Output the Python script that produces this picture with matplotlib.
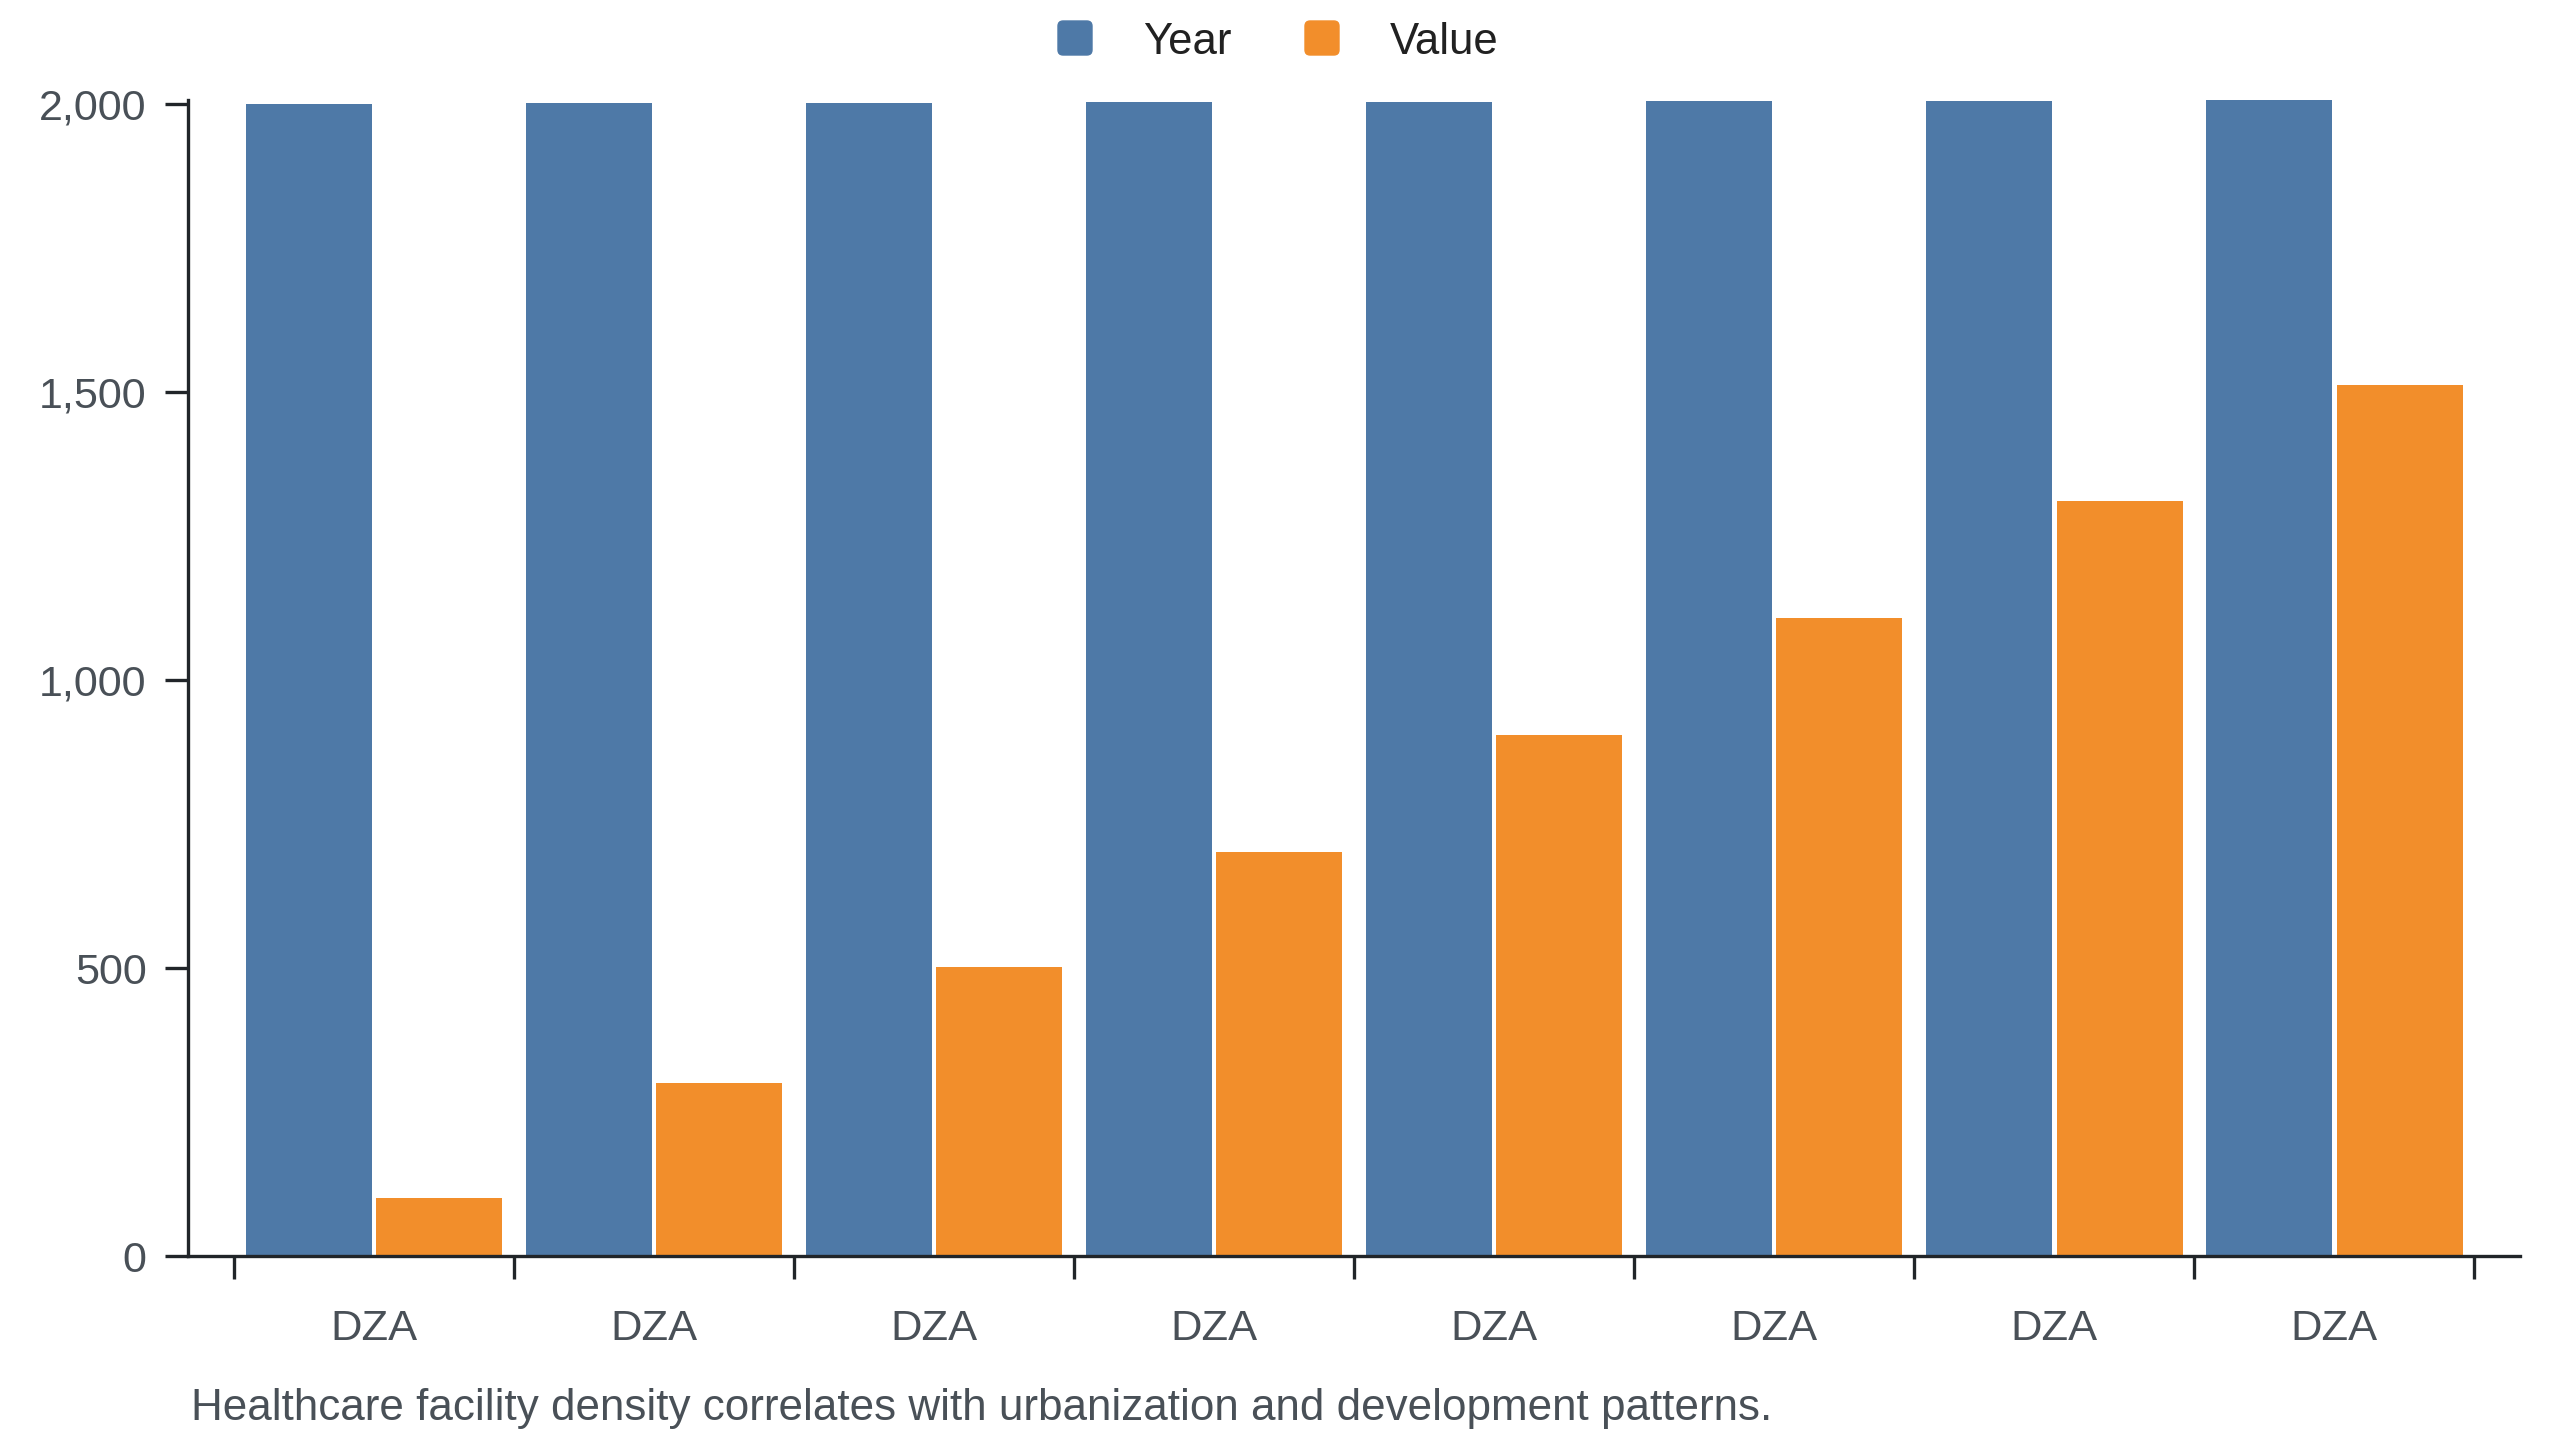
import numpy as np
import matplotlib.pyplot as plt
from matplotlib.patches import FancyBboxPatch

plt.rcParams['font.family'] = ['Liberation Sans', 'DejaVu Sans']

countries = ["DZA", "DZA", "DZA", "DZA", "DZA", "DZA", "DZA", "DZA"]
year = [2000, 2001, 2002, 2003, 2004, 2005, 2006, 2007]
value = [100, 300, 501, 702, 905, 1108, 1310, 1513]

blue = "#4e79a7"
orange = "#f28e2b"
axis_col = "#212529"
text_gray = "#495057"

fig = plt.figure(figsize=(25.6, 14.4), dpi=100)
ax = fig.add_axes([187.7 / 2560, 1 - 1256 / 1440, (2520 - 187.7) / 2560, (1256 - 100) / 1440])

x = np.arange(len(countries))
bw = 0.45
ax.bar(x + 0.043, year, width=bw, align='edge', color=blue, label="Year")
ax.bar(x + 0.509, value, width=bw, align='edge', color=orange, label="Value")

ax.set_xlim(-0.164, len(countries) + 0.164)
ax.set_ylim(0, max(year))

for s in ["top", "right"]:
    ax.spines[s].set_visible(False)
for s in ["left", "bottom"]:
    ax.spines[s].set_linewidth(2.4)
    ax.spines[s].set_color(axis_col)

ax.set_yticks([0, 500, 1000, 1500, 2000])
ax.set_yticklabels(["0", "500", "1,000", "1,500", "2,000"])
ax.tick_params(axis='y', length=16.5, width=2.4, color=axis_col, pad=13,
               labelsize=31, labelcolor=text_gray)

ax.set_xticks(np.arange(len(countries) + 1))
ax.set_xticklabels([])
ax.set_xticks(x + 0.5, minor=True)
ax.set_xticklabels(countries, minor=True)
ax.tick_params(axis='x', which='major', length=16.5, width=2.4, color=axis_col)
ax.tick_params(axis='x', which='minor', length=0, pad=38, labelsize=31.3, labelcolor=text_gray)

# legend drawn by hand at the top centre
for px, lab, col, tx in [(1058, "Year", blue, 1143), (1305, "Value", orange, 1390)]:
    fig.patches.append(FancyBboxPatch((px / 2560, 1 - 55 / 1440), 34 / 2560, 34 / 1440,
                                      boxstyle="round,pad=0,rounding_size=0.002",
                                      transform=fig.transFigure, color=col,
                                      mutation_aspect=2560 / 1440))
    fig.text(tx / 2560, 1 - 37.5 / 1440, lab, fontsize=31.5, color="#212121",
             va='center_baseline', ha='left')

fig.text(191 / 2560, 20 / 1440,
         "Healthcare facility density correlates with urbanization and development patterns.",
         fontsize=31.7, color=text_gray, va='baseline', ha='left')

fig.savefig("out.png", dpi=100, facecolor="white")
